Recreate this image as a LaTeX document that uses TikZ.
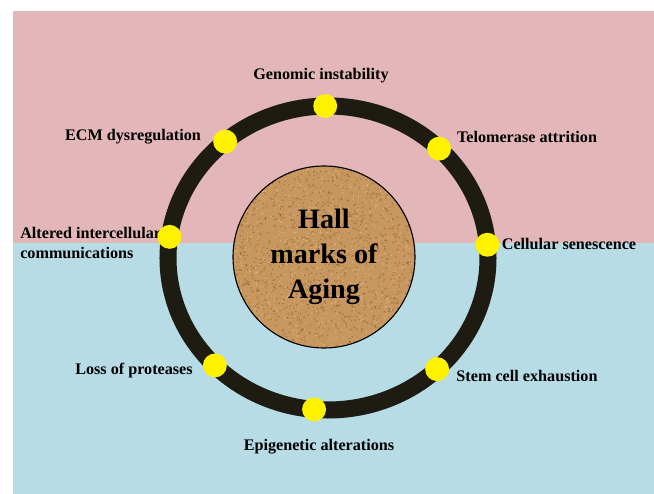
\documentclass[tikz,border=0pt]{standalone}
\usepackage{fontspec}
\setmainfont{Liberation Serif}
\usepackage{xcolor}
\definecolor{agepink}{HTML}{E3B7B9}
\definecolor{ageblue}{HTML}{B7DCE6}
\definecolor{agering}{HTML}{1E1B12}
\definecolor{agecork}{HTML}{C8975F}
\definecolor{agecorkdark}{HTML}{7A4E28}
\definecolor{agecorklight}{HTML}{EACBA0}
\definecolor{ageyellow}{HTML}{FFF200}
\usetikzlibrary{calc}

\begin{document}
\begin{tikzpicture}[
  x=0.025cm, y=0.025cm,
  every node/.style={font=\fontsize{11.5}{14}\selectfont\bfseries},
  ringdot/.style={circle, fill=ageyellow, minimum size=17, inner sep=0pt},
  hallmark/.style={inner sep=0pt, align=center},
  core/.style={font=\fontsize{20}{25}\selectfont\bfseries, align=center},
]
  % page and the two halves of the background
  \useasboundingbox (0,0) rectangle (654,494);
  \fill[white] (0,0) rectangle (654,494);
  \fill[agepink] (13,251) rectangle (654,483);
  \fill[ageblue] (13,0) rectangle (654,251);

  % cork disc in the middle
  \coordinate (hub) at (324,237);
  \fill[agecork] (hub) circle (91);
  \begin{scope}
    \clip (hub) circle (91);
    \pgfmathsetseed{42}
    \foreach \i in {1,...,1400} {
      \fill[agecorkdark, opacity=0.5] ({324+91*rand},{237+91*rand}) circle (0.8);
    }
    \foreach \i in {1,...,900} {
      \fill[agecorklight, opacity=0.6] ({324+91*rand},{237+91*rand}) circle (0.7);
    }
  \end{scope}
  \draw[black, line width=0.8pt] (hub) circle (91);
  \node[core] (title) at (hub) {Hall\\marks of\\Aging};

  % the ring
  \coordinate (ring) at (328,236);
  \draw[agering, line width=12.1pt] (ring) ellipse [x radius=160, y radius=152];

  % labels
  \node[hallmark] (lgen)  at (321,418) {Genomic instability};
  \node[hallmark] (lecm)  at (133,357) {ECM dysregulation};
  \node[hallmark] (ltel)  at (527,357) {Telomerase attrition};
  \node[hallmark, anchor=west, align=left] (lalt) at (20,251) {Altered intercellular\\communications};
  \node[hallmark] (lcel)  at (569,250) {Cellular senescence};
  \node[hallmark] (lloss) at (134,123) {Loss of proteases};
  \node[hallmark] (lstem) at (527,118) {Stem cell exhaustion};
  \node[hallmark] (lepi)  at (319,47)  {Epigenetic alterations};

  % yellow markers on the ring
  \foreach \ang/\nm in {91/mgen, 130/mecm, 46/mtel, 172/malt, 5/mcel, 225/mloss, 313/mstem, 265/mepi}
    \node[ringdot] (\nm) at ($(ring)+(\ang:160 and 152)$) {};
\end{tikzpicture}
\end{document}
